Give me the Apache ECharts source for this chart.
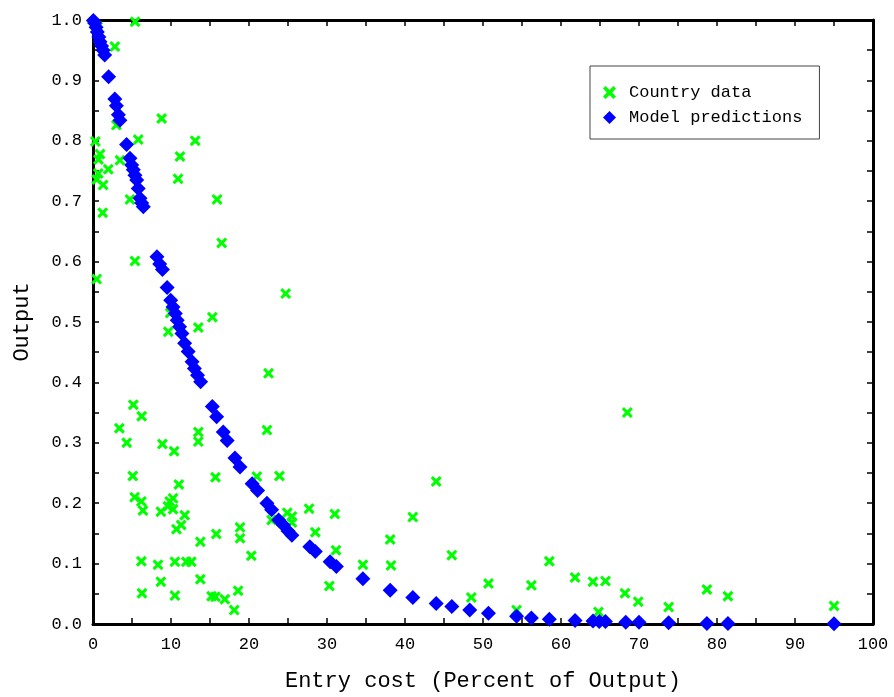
<!DOCTYPE html>
<html>
<head>
<meta charset="utf-8">
<title>Entry cost vs output</title>
<script src="https://cdn.jsdelivr.net/npm/echarts@6/dist/echarts.min.js"></script>
<style>
  html, body { margin: 0; padding: 0; background: #fff; }
  #chart { width: 894px; height: 697px; }
</style>
</head>
<body>
<div id="chart"></div>
<script>
// country observations: [entry cost, output]
var countryData = [
  [5.4, 0.997], [0.6, 0.989], [2.8, 0.956], [8.8, 0.837], [3.0, 0.826], [0.3, 0.799],
  [5.8, 0.802], [13.1, 0.800], [0.9, 0.778], [0.7, 0.769], [11.15, 0.774], [3.46, 0.768],
  [1.96, 0.753], [0.68, 0.746], [0.47, 0.736], [1.3, 0.727], [1.24, 0.681], [4.74, 0.703],
  [10.9, 0.737], [15.9, 0.703], [16.5, 0.631],
  [5.38, 0.601], [0.47, 0.571], [24.7, 0.547], [15.3, 0.508], [13.5, 0.491], [9.65, 0.484],
  [9.9, 0.515], [22.5, 0.415], [5.17, 0.363], [6.24, 0.344], [3.38, 0.324], [4.32, 0.300],
  [8.9, 0.298], [10.4, 0.286], [13.5, 0.318], [13.5, 0.302], [22.3, 0.321], [5.1, 0.245],
  [15.7, 0.243], [21.0, 0.244], [23.9, 0.245], [11.0, 0.231],
  [5.34, 0.210], [6.2, 0.203], [6.4, 0.188], [8.7, 0.186], [9.83, 0.203], [10.26, 0.208],
  [9.6, 0.195], [10.26, 0.190], [11.75, 0.180], [11.3, 0.164], [10.7, 0.157], [13.76, 0.136],
  [15.8, 0.149], [6.2, 0.104], [8.33, 0.098], [10.5, 0.103], [11.96, 0.103], [12.6, 0.103],
  [8.7, 0.070], [13.76, 0.074], [6.28, 0.051], [10.5, 0.047], [15.2, 0.046], [15.7, 0.045],
  [16.9, 0.041],
  [24.9, 0.184], [25.5, 0.178], [25.5, 0.168], [22.9, 0.172], [27.7, 0.191], [31.0, 0.182],
  [28.5, 0.152], [31.15, 0.122], [30.3, 0.063], [18.85, 0.160], [18.85, 0.142], [20.3, 0.113],
  [18.6, 0.055], [18.1, 0.023],
  [44.0, 0.236], [41.0, 0.177], [38.1, 0.140], [38.2, 0.097], [34.6, 0.098], [46.0, 0.114],
  [50.7, 0.067], [48.5, 0.044], [56.2, 0.064], [54.3, 0.023],
  [58.5, 0.104], [61.8, 0.077], [64.1, 0.070], [64.8, 0.020], [68.5, 0.350], [65.7, 0.071],
  [68.2, 0.051], [69.9, 0.037], [73.8, 0.028], [78.7, 0.057], [81.4, 0.046], [95.0, 0.030]
];

// model predictions: [entry cost, output]
var modelData = [
  [0.05, 0.999], [0.2, 0.995], [0.4, 0.988], [0.55, 0.980], [0.75, 0.972], [0.9, 0.964],
  [1.1, 0.957], [1.3, 0.950], [1.5, 0.942],
  [2.0, 0.906], [2.8, 0.869], [3.0, 0.858], [3.25, 0.843], [3.45, 0.834], [4.3, 0.794],
  [4.74, 0.771], [4.96, 0.760], [5.17, 0.752], [5.38, 0.743], [5.6, 0.735], [5.8, 0.721],
  [6.03, 0.705], [6.24, 0.697], [6.45, 0.691],
  [8.2, 0.608], [8.55, 0.596], [8.9, 0.587], [9.5, 0.557], [9.96, 0.536], [10.26, 0.525],
  [10.55, 0.514], [10.8, 0.503], [11.1, 0.492], [11.4, 0.481], [11.75, 0.465], [12.2, 0.451],
  [12.7, 0.434], [13.0, 0.423], [13.4, 0.412], [13.8, 0.401],
  [15.3, 0.360], [15.85, 0.343], [16.7, 0.318], [17.2, 0.304], [18.2, 0.275], [18.85, 0.260],
  [20.4, 0.232], [21.1, 0.221], [22.3, 0.200], [22.9, 0.189], [23.8, 0.172], [24.4, 0.164],
  [25.0, 0.154], [25.5, 0.147], [27.8, 0.128], [28.5, 0.120], [30.4, 0.103], [31.2, 0.095],
  [34.6, 0.075], [38.1, 0.056], [41.0, 0.044], [44.0, 0.034], [46.0, 0.029], [48.3, 0.023],
  [50.7, 0.018], [54.3, 0.013], [56.2, 0.010], [58.5, 0.008], [61.8, 0.006], [64.1, 0.005],
  [64.9, 0.004], [65.7, 0.004], [68.3, 0.003], [70.0, 0.003], [73.8, 0.002], [78.7, 0.001],
  [81.4, 0.001], [95.0, 0.0005]
];

var seriesNames = ['Country data', 'Model predictions'];
var axisNames = { x: 'Entry cost (Percent of Output)', y: 'Output' };

var FONT = '"Liberation Mono", "DejaVu Sans Mono", monospace';
var crossPath = 'path://M0,2 L2,0 L5,3 L8,0 L10,2 L7,5 L10,8 L8,10 L5,7 L2,10 L0,8 L3,5 Z';

var chart = echarts.init(document.getElementById('chart'));

// shared look for the four sides of the box
function side(extra) {
  var base = {
    axisLine: { show: true, onZero: false, lineStyle: { color: '#000', width: 3 } },
    axisTick: { show: true, inside: true, length: 6, lineStyle: { color: '#000', width: 1.5 } },
    minorTick: { show: true, splitNumber: 2, length: 6, lineStyle: { color: '#000', width: 1.5 } },
    splitLine: { show: false },
    axisLabel: { show: false }
  };
  return Object.assign(base, extra);
}

var option = {
  animation: false,
  backgroundColor: '#fff',
  grid: { left: 93, right: 21, top: 20, bottom: 73, containLabel: false },
  legend: {
    orient: 'vertical',
    left: 590,
    top: 66,
    padding: [18, 17, 13, 13],
    itemGap: 8,
    itemWidth: 13,
    itemHeight: 13,
    borderColor: '#444',
    borderWidth: 1,
    backgroundColor: '#fff',
    textStyle: { fontFamily: FONT, fontSize: 17, color: '#000', padding: [0, 0, 0, 8] },
    data: seriesNames
  },
  xAxis: [
    side({
      type: 'value', position: 'bottom', min: 0, max: 100, interval: 10,
      name: axisNames.x, nameLocation: 'middle', nameGap: 46,
      nameTextStyle: { fontFamily: FONT, fontSize: 22, color: '#000' },
      axisLabel: { show: true, margin: 12, fontFamily: FONT, fontSize: 17, color: '#000' }
    }),
    side({ type: 'value', position: 'top', min: 0, max: 100, interval: 10 })
  ],
  yAxis: [
    side({
      type: 'value', position: 'left', min: 0, max: 1, interval: 0.1,
      name: axisNames.y, nameLocation: 'middle', nameGap: 60,
      nameTextStyle: { fontFamily: FONT, fontSize: 22, color: '#000' },
      axisLabel: {
        show: true, margin: 11, fontFamily: FONT, fontSize: 17, color: '#000',
        formatter: function (v) { return v.toFixed(1); }
      }
    }),
    side({ type: 'value', position: 'right', min: 0, max: 1, interval: 0.1 })
  ],
  series: [
    {
      name: seriesNames[0],
      type: 'scatter',
      symbol: crossPath,
      symbolSize: 11,
      itemStyle: { color: '#00ff00', opacity: 1 },
      emphasis: { disabled: true },
      data: countryData,
      z: 2
    },
    {
      name: seriesNames[1],
      type: 'scatter',
      symbol: 'diamond',
      symbolSize: 15,
      itemStyle: { color: '#0000ff', opacity: 1 },
      emphasis: { disabled: true },
      data: modelData,
      z: 3
    }
  ]
};

chart.setOption(option);
</script>
</body>
</html>
